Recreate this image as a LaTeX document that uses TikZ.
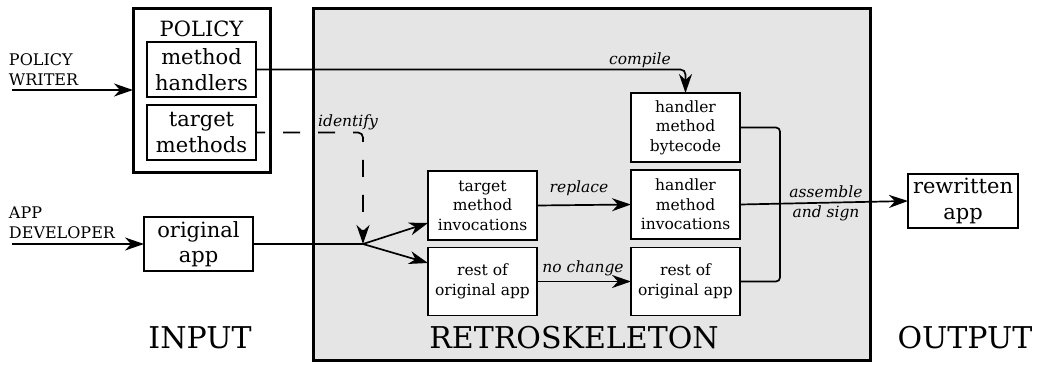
\documentclass[tikz,border=0pt]{standalone}
\usepackage{fontspec}
\setmainfont{DejaVu Serif}
\usetikzlibrary{arrows.meta,calc}
\definecolor{retrogray}{RGB}{229,229,229}
\tikzset{
  every node/.style={inner sep=0pt, outer sep=0pt},
  inbox/.style={draw, fill=white, line width=1.4pt, align=center,
    minimum width=109pt, minimum height=69pt,
    font=\fontsize{15.5}{19.5}\selectfont},
  bigbox/.style={draw, fill=white, line width=1.4pt, align=center,
    minimum width=109pt, minimum height=55pt,
    font=\fontsize{21}{25.5}\selectfont},
  thickbox/.style={draw, line width=3pt},
  sidelabel/.style={anchor=west, align=left, font=\fontsize{16}{20}\selectfont},
  edgelabel/.style={align=center, font=\fontsize{15.5}{20}\selectfont\itshape},
  biglabel/.style={font=\fontsize{30}{35}\selectfont},
  conn/.style={line width=1.7pt},
  arr/.style={conn, -{Stealth[length=19pt,width=13pt,inset=6pt]}},
}
\begin{document}
\begin{tikzpicture}[x=1pt, y={(0pt,-1pt)}]
\useasboundingbox (0,0) rectangle (1040,364);
% background box
\node[thickbox, fill=retrogray, minimum width=557pt, minimum height=352pt] (retro) at (591.5,184.5) {};
% policy box
\node[thickbox, fill=white, minimum width=137pt, minimum height=164pt] (pol) at (201.5,90) {};
\node[font=\fontsize{21}{25}\selectfont] (poltitle) at (201.5,29) {POLICY};
\node[bigbox] (mh) at (201.5,69.5) {method\\handlers};
\node[bigbox] (tm) at (201.5,132.5) {target\\methods};
\node[bigbox, minimum height=54pt] (orig) at (198.5,244) {original\\app};
\node[bigbox, minimum width=110pt, minimum height=54pt] (rew) at (963,201) {rewritten\\app};
% inner boxes
\node[inbox] (tmi) at (482.5,205.5) {target\\method\\invocations};
\node[inbox, minimum height=68pt] (rol) at (482.5,281.5) {rest of\\original app};
\node[inbox] (hmb) at (685.5,127.5) {handler\\method\\bytecode};
\node[inbox] (hmi) at (685.5,204.5) {handler\\method\\invocations};
\node[inbox, minimum height=68pt] (ror) at (685.5,281.5) {rest of\\original app};
% side labels
\node[sidelabel] (pw) at (9,70) {POLICY\\WRITER};
\node[sidelabel] (ad) at (9,223) {APP\\DEVELOPER};
\coordinate (pwstart) at (12,90);
\coordinate (adstart) at (12,244);
% big labels
\node[biglabel] (inl) at (200,338) {INPUT};
\node[biglabel] (rsl) at (574,338) {RETROSKELETON};
\node[biglabel] (outl) at (965,338) {OUTPUT};
% connectors
\draw[arr] (pwstart) -- (pol.west);
\draw[arr] (adstart) -- (orig.west);
\coordinate (J) at (363,244);
\draw[conn] (orig.east) -- (J);
\draw[arr] (J) -- ([yshift=-17.5pt]tmi.west);
\draw[arr] (J) -- ([yshift=18.5pt]rol.west);
\draw[arr, rounded corners=5pt] (mh.east) -| (hmb.north);
\node[edgelabel] (compl) at (640,60) {compile};
\draw[arr, dash pattern=on 17pt off 18pt, dash phase=8pt, rounded corners=5pt] (tm.east) -| (J);
\node[edgelabel] (idl) at (348,122) {identify};
\draw[arr] (tmi.east) -- (hmi.west);
\node[edgelabel] (repl) at (579,188) {replace};
\draw[arr] (rol.east) -- (ror.west);
\node[edgelabel] (ncl) at (583,268) {no change};
\coordinate (mg) at (780,204);
\draw[conn, rounded corners=4pt] (hmb.east) -| (mg) |- (ror.east);
\draw[arr] (hmi.east) -- (rew.west);
\node[edgelabel] (asl) at (826,203) {assemble\\and sign};
\end{tikzpicture}
\end{document}
